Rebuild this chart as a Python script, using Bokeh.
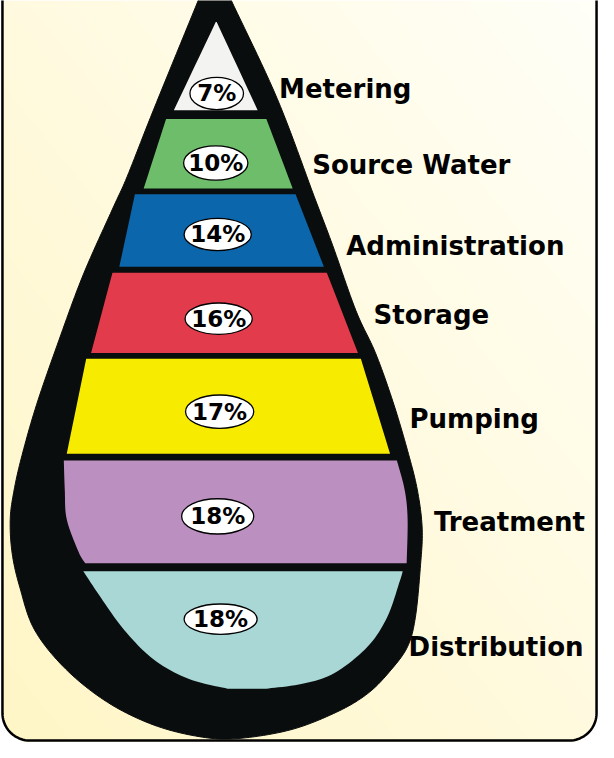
import numpy as np
from bokeh.plotting import figure
from bokeh.models import Range1d, ColumnDataSource
from bokeh.embed import file_html
from bokeh.resources import INLINE
from bokeh.core.properties import value

# ---------------- data ----------------
categories = ["Metering", "Source Water", "Administration", "Storage",
              "Pumping", "Treatment", "Distribution"]
shares = [7, 10, 14, 16, 17, 18, 18]
share_labels = [f"{s}%" for s in shares]

# ---------------- styles ----------------
band_colors = ["#f3f3f1", "#6dbd6a", "#0c66ab", "#e23c4c",
               "#f7ec00", "#bb90c0", "#a8d7d6"]
INK = "#0a0d0d"

# ---------------- layout (reference pixel space) ----------------
W, H = 614, 758
band_top = [22, 121, 198, 278, 366, 470, 583]
band_bottom = [112, 192, 272, 360, 463, 575, 703]
oval_x = [222, 221, 223, 224, 225, 223, 226]
oval_y = [95, 166, 239, 325, 420, 527, 632]
oval_w = [55, 66, 69, 69, 70, 74, 75]
oval_h = [33, 35, 33, 32, 34, 36, 31]
label_x = [286, 320, 355, 383, 420, 445, 419]
label_y = [90, 168, 251, 321, 428, 533, 660]

# inner (coloured) outline of the drop, per side
left_edge_x = [221, 178, 170, 147, 138, 122, 115, 93, 88, 68, 65, 66, 68, 80, 87,
               85, 103, 127, 157, 193, 233]
left_edge_y = [22, 112, 121, 192, 198, 272, 278, 360, 366, 463, 470, 500, 530, 563, 575,
               583, 610, 643, 673, 693, 703]
right_edge_x = [222, 264, 273, 300, 303, 332, 335, 367, 370, 400, 407, 415, 418, 417,
                413, 410, 397, 377, 343, 310, 273]
right_edge_y = [22, 112, 121, 192, 198, 272, 278, 360, 366, 463, 470, 500, 530, 575,
                583, 593, 630, 660, 687, 698, 703]

# outer black outline of the drop
outer_x = [219, 237, 284, 322, 341, 365, 385, 403, 418, 428, 433, 431, 426, 418, 400, 377,
           345, 298, 243, 204, 157, 110, 67, 35, 20, 12, 10, 14, 22, 37, 60, 85, 115, 130, 157, 203]
outer_y = [-39, 0, 100, 200, 250, 317, 360, 410, 460, 500, 540, 580, 630, 660, 685, 708,
           727, 745, 754, 752, 740, 717, 683, 643, 600, 565, 530, 500, 465, 413, 347, 280, 213, 180, 112, 0]


def catmull_rom(pts, n=10, closed=False):
    pts = np.asarray(pts, dtype=float)
    m = len(pts)
    if m < 2:
        return pts
    out = []
    segs = m if closed else m - 1
    for i in range(segs):
        if closed:
            p0, p1, p2, p3 = pts[(i - 1) % m], pts[i], pts[(i + 1) % m], pts[(i + 2) % m]
        else:
            p1, p2 = pts[i], pts[i + 1]
            p0 = pts[i - 1] if i > 0 else p1
            p3 = pts[i + 2] if i + 2 < m else p2
        for t in np.linspace(0, 1, n, endpoint=False):
            t2, t3 = t * t, t * t * t
            out.append(0.5 * ((2 * p1) + (-p0 + p2) * t + (2 * p0 - 5 * p1 + 4 * p2 - p3) * t2
                              + (-p0 + 3 * p1 - 3 * p2 + p3) * t3))
    if not closed:
        out.append(pts[-1])
    return np.array(out)


p = figure(width=598, height=742, x_range=Range1d(0, W), y_range=Range1d(H, 0),
           output_backend="svg", toolbar_location=None, min_border=0,
           x_axis_type=None, y_axis_type=None)
p.grid.visible = False
p.outline_line_color = None
p.background_fill_color = "white"
p.border_fill_color = "white"

# ---- cream gradient panel with rounded bottom corners ----
step = 2
nx, ny = W // step, H // step + 1
jj, ii = np.meshgrid(np.arange(nx), np.arange(ny))
gx = (jj + 0.5) * step
gy = (ii + 0.5) * step
t = (gx / W + (1 - gy / H)) / 2.0
r_ = 28.0
inside = (gx >= 2) & (gx <= 612) & (gy <= 756)
bl = (gx < 2 + r_) & (gy > 756 - r_) & ((gx - (2 + r_)) ** 2 + (gy - (756 - r_)) ** 2 > r_ ** 2)
br = (gx > 612 - r_) & (gy > 756 - r_) & ((gx - (612 - r_)) ** 2 + (gy - (756 - r_)) ** 2 > r_ ** 2)
inside &= ~bl & ~br
img = np.zeros((ny, nx), dtype=np.uint32)
view = img.view(dtype=np.uint8).reshape((ny, nx, 4))
view[..., 0] = 255
view[..., 1] = np.clip(246 + 9 * t, 0, 255).astype(np.uint8)
view[..., 2] = np.clip(198 + 50 * t, 0, 255).astype(np.uint8)
view[..., 3] = np.where(inside, 255, 0).astype(np.uint8)
p.image_rgba(image=[img], x=0, y=0, dw=nx * step, dh=ny * step)

# panel outline (top runs off the page)
ang1 = np.linspace(np.pi, np.pi / 2, 20)
ang2 = np.linspace(np.pi / 2, 0, 20)
bx = [2, 2] + list(2 + r_ + r_ * np.cos(ang1)) + list(612 - r_ + r_ * np.cos(ang2)) + [612, 612]
by = [-20, 756 - r_] + list(756 - r_ + r_ * np.sin(ang1)) + list(756 - r_ + r_ * np.sin(ang2)) + [756 - r_, -20]
p.line(bx, by, line_color="black", line_width=2.5)

# ---- drop: outer black body ----
outer = catmull_rom(list(zip(outer_x, outer_y)), n=12, closed=True)
p.patch(list(outer[:, 0]), list(outer[:, 1]), fill_color=INK, line_color=INK, line_width=1)

# ---- coloured bands ----
bxs, bys = [], []
for top, bot in zip(band_top, band_bottom):
    lp = [(x, y) for x, y in zip(left_edge_x, left_edge_y) if top <= y <= bot]
    rp = [(x, y) for x, y in zip(right_edge_x, right_edge_y) if top <= y <= bot]
    ls = catmull_rom(lp, n=10)
    rs = catmull_rom(rp, n=10)[::-1]
    bxs.append(list(ls[:, 0]) + list(rs[:, 0]))
    bys.append(list(ls[:, 1]) + list(rs[:, 1]))
band_src = ColumnDataSource(dict(xs=bxs, ys=bys, color=band_colors, name=categories))
p.patches("xs", "ys", source=band_src, fill_color="color", line_color=None)

# ---- percentage ovals ----
oval_src = ColumnDataSource(dict(x=oval_x, y=oval_y, w=oval_w, h=oval_h, label=share_labels))
p.ellipse(x="x", y="y", width="w", height="h", source=oval_src,
          fill_color="white", line_color="black", line_width=1.3)
p.text(x="x", y="y", text="label", source=oval_src, text_align="center",
       text_baseline="middle", text_font=value("DejaVu Sans"), text_font_style="bold",
       text_font_size="23px", text_color="black")

# ---- category labels ----
lab_src = ColumnDataSource(dict(x=label_x, y=label_y, text=categories))
p.text(x="x", y="y", text="text", source=lab_src, text_align="left",
       text_baseline="alphabetic", text_font=value("DejaVu Sans"), text_font_style="bold",
       text_font_size="26px", text_color="black")

open("out.html", "w").write(file_html(p, INLINE))
